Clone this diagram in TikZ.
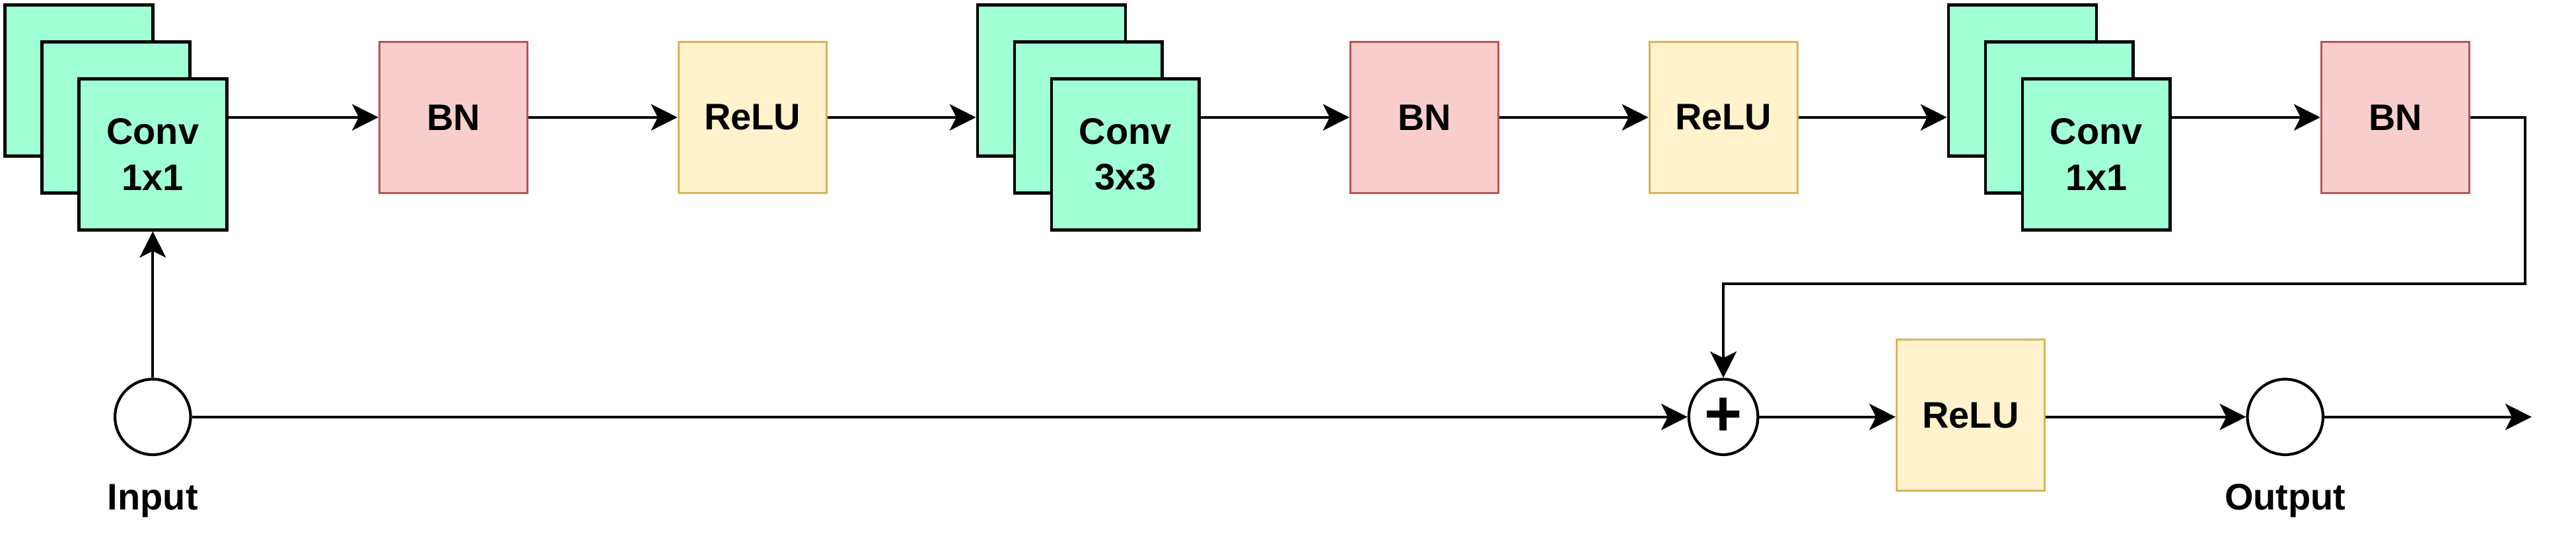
\documentclass[tikz,border=0pt]{standalone}
\usepackage{fontspec}
\setmainfont{Liberation Sans}
\usetikzlibrary{arrows.meta,shapes.geometric}
\definecolor{convfill}{RGB}{160,255,213}
\definecolor{bnfill}{RGB}{248,206,204}
\definecolor{bnline}{RGB}{184,84,80}
\definecolor{relufill}{RGB}{255,242,204}
\definecolor{reluline}{RGB}{214,182,86}
\begin{document}
\begin{tikzpicture}[x=0.025cm,y=-0.025cm,
  box/.style={minimum width=2.25cm,minimum height=2.3cm,inner sep=0pt,align=center,font=\fontsize{16}{20}\selectfont\bfseries},
  conv/.style={box,draw=black,fill=convfill,line width=1.3pt},
  bn/.style={box,draw=bnline,fill=bnfill,line width=0.9pt},
  relu/.style={box,draw=reluline,fill=relufill,line width=0.9pt},
  port/.style={circle,draw=black,line width=1.2pt,fill=white,minimum size=1.15cm,inner sep=0pt},
  sumnode/.style={ellipse,draw=black,line width=1.2pt,fill=white,minimum width=1.05cm,minimum height=1.15cm,inner sep=0pt,font=\fontsize{28}{28}\selectfont\bfseries},
  lbl/.style={font=\fontsize{16}{19}\selectfont\bfseries},
  arr/.style={draw=black,line width=1.2pt,-{Stealth[length=0.4cm,width=0.4cm,inset=0.1cm]}},
  ln/.style={draw=black,line width=1.2pt}]
\fill[white] (0,0) rectangle (1568,339);
\useasboundingbox (0,0) rectangle (1568,339);
% conv stack 1
\node[conv] (c1b) at (48,49) {};
\node[conv] (c1m) at (70.5,71.5) {};
\node[conv] (c1f) at (93,94) {Conv\\1x1};
\node[bn] (bn1) at (276,71.5) {BN};
\node[relu] (r1) at (458,71.5) {ReLU};
% conv stack 2
\node[conv] (c2b) at (640,49) {};
\node[conv] (c2m) at (662.5,71.5) {};
\node[conv] (c2f) at (685,94) {Conv\\3x3};
\node[bn] (bn2) at (867,71.5) {BN};
\node[relu] (r2) at (1049,71.5) {ReLU};
% conv stack 3
\node[conv] (c3b) at (1231,49) {};
\node[conv] (c3m) at (1253.5,71.5) {};
\node[conv] (c3f) at (1276,94) {Conv\\1x1};
\node[bn] (bn3) at (1458,71.5) {BN};
% bottom row
\node[port] (in) at (93,254) {};
\node[lbl] (inl) at (93,305) {Input};
\node[sumnode] (plus) at (1049,254) {+};
\node[relu] (r3) at (1199.5,253) {ReLU};
\node[port] (out) at (1391,254) {};
\node[lbl] (outl) at (1391,305) {Output};
\coordinate (fb) at (1537,173);
\coordinate (end) at (1541,254);
% connectors
\draw[arr] (c1f.east |- bn1.west) -- (bn1.west);
\draw[arr] (bn1.east) -- (r1.west);
\draw[arr] (r1.east) -- (c2b.west |- r1.east);
\draw[arr] (c2f.east |- bn2.west) -- (bn2.west);
\draw[arr] (bn2.east) -- (r2.west);
\draw[arr] (r2.east) -- (c3b.west |- r2.east);
\draw[arr] (c3f.east |- bn3.west) -- (bn3.west);
\draw[arr] (bn3.east) -| (fb) -| (plus.north);
\draw[arr] (in.north) -- (c1f.south);
\draw[arr] (in.east) -- (plus.west);
\draw[arr] (plus.east) -- (r3.west |- plus.east);
\draw[arr] (r3.east |- out.west) -- (out.west);
\draw[arr] (out.east) -- (end);
\end{tikzpicture}
\end{document}
